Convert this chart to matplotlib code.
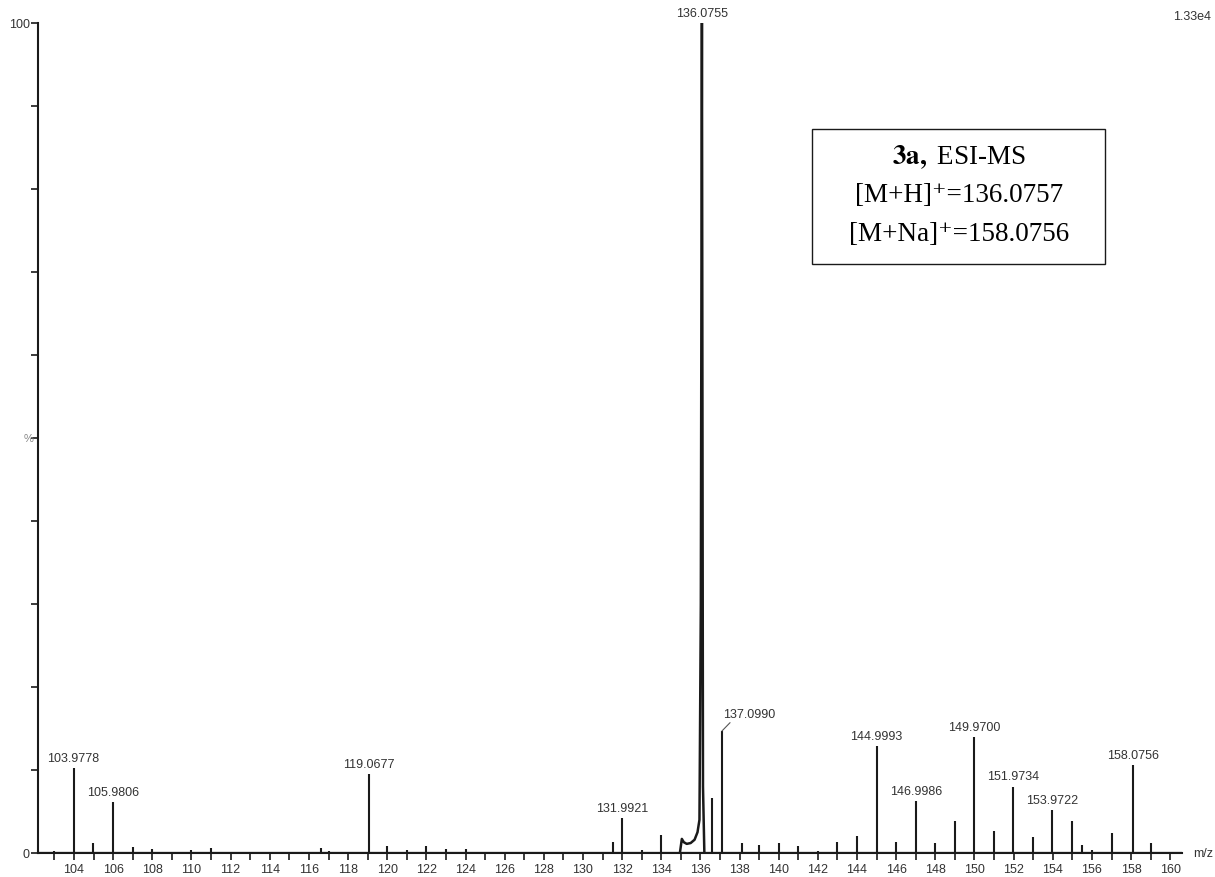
#!/usr/bin/env python3
"""ESI-MS spectrum of compound 3a, drawn as a stick spectrum."""

import matplotlib
matplotlib.use("Agg")
import matplotlib.pyplot as plt
from matplotlib.patches import Rectangle

# centroided peaks: m/z and relative intensity (%)
peak_mz = [103.0, 103.9778, 104.95, 105.9806, 107.0, 108.0, 110.0, 111.0, 116.6, 117.0,
           119.0677, 120.0, 121.0, 122.0, 123.0, 124.0, 131.55, 131.9921, 133.0, 134.0,
           136.6, 137.0990, 138.1, 139.0, 140.0, 141.0, 142.0, 143.0, 144.0, 144.9993,
           146.0, 146.9986, 148.0, 149.0, 149.9700, 151.0, 151.9734, 153.0, 153.9722,
           155.0, 155.5, 156.0, 157.0, 158.0756, 159.0]
peak_int = [0.3, 10.2, 1.2, 6.1, 0.7, 0.5, 0.4, 0.6, 0.6, 0.3,
            9.5, 0.8, 0.4, 0.9, 0.5, 0.5, 1.3, 4.2, 0.4, 2.2,
            6.6, 14.7, 1.2, 1.0, 1.2, 0.8, 0.3, 1.3, 2.0, 12.9,
            1.3, 6.3, 1.2, 3.8, 14.0, 2.6, 8.0, 1.9, 5.2,
            3.8, 1.0, 0.4, 2.4, 10.6, 1.2]

# profile of the base peak with its low-mass shoulder
base_mz = [134.95, 135.05, 135.15, 135.3, 135.5, 135.7, 135.85, 135.95, 136.02,
           136.0755, 136.13, 136.2]
base_int = [0.0, 1.7, 1.3, 1.1, 1.2, 1.6, 2.5, 4.0, 30.0, 100.0, 8.0, 0.0]

# annotated peaks
label_mz = [103.9778, 105.9806, 119.0677, 131.9921, 136.0755, 144.9993, 146.9986,
            149.9700, 151.9734, 153.9722, 158.0756]
label_int = [10.2, 6.1, 9.5, 4.2, 100.0, 12.9, 6.3, 14.0, 8.0, 5.2, 10.6]
offset_label_mz = 137.0990
offset_label_int = 14.7

x_min, x_max = 102.16, 160.6
x_ticks = list(range(103, 161))
x_labels = [str(t) if t % 2 == 0 else "" for t in x_ticks]
y_ticks = list(range(0, 101, 10))
y_labels = ["0", "", "", "", "", "", "", "", "", "", "100"]

box_lines = [r"$\mathbf{3a,}$ ESI-MS",
             "[M+H]\u207a=136.0757",
             "[M+Na]\u207a=158.0756"]

plt.rcParams["font.family"] = ["Liberation Sans", "DejaVu Sans"]
plt.rcParams["mathtext.fontset"] = "stix"

fig = plt.figure(figsize=(12.15, 8.78), dpi=100)
ax = fig.add_axes([38 / 1215, 24 / 878, 1144 / 1215, 830 / 878])

ink = "#1a1a1a"
ax.hlines(0, x_min, x_max, color=ink, lw=1.6, zorder=3)
ax.vlines(peak_mz, 0, peak_int, color=ink, lw=1.5)
ax.plot(base_mz, base_int, color=ink, lw=1.8, solid_joinstyle="round")

txt_color = "#333333"
fs = 9
for mz, inten in zip(label_mz, label_int):
    ax.annotate(f"{mz:.4f}", (mz, inten), xytext=(0, 3), textcoords="offset points",
                ha="center", va="bottom", fontsize=fs, color=txt_color, annotation_clip=False)

# 137.0990 sits next to the base peak, so it gets a short leader line
ax.annotate(f"{offset_label_mz:.4f}", (offset_label_mz, offset_label_int),
            xytext=(1, 8), textcoords="offset points", ha="left", va="bottom",
            fontsize=fs, color=txt_color,
            arrowprops=dict(arrowstyle="-", color="#555555", lw=0.8, shrinkA=0, shrinkB=0,
                            relpos=(0.18, 0.0)))

ax.set_xlim(x_min, x_max)
ax.set_ylim(0, 100)
ax.set_xticks(x_ticks)
ax.set_xticklabels(x_labels)
ax.set_yticks(y_ticks)
ax.set_yticklabels(y_labels)
ax.tick_params(axis="x", direction="out", length=5, width=1.2, pad=2, labelsize=fs,
               labelcolor=txt_color, color=ink)
ax.tick_params(axis="y", direction="out", length=5, width=1.2, pad=1, labelsize=fs,
               labelcolor=txt_color, color=ink)

for side in ("top", "right"):
    ax.spines[side].set_visible(False)
ax.spines["left"].set_linewidth(1.5)
ax.spines["bottom"].set_linewidth(1.5)
ax.spines["left"].set_color(ink)
ax.spines["bottom"].set_color(ink)

ax.text(-0.004, 0.5, "%", transform=ax.transAxes, ha="right", va="center",
        fontsize=8, color="#888888")
ax.text(1.01, 0.0, "m/z", transform=ax.transAxes, ha="left", va="center",
        fontsize=fs, color=txt_color)
fig.text(0.997, 1 - 17 / 878, "1.33e4", ha="right", va="center", fontsize=fs,
         color=txt_color)

# sample information box
box = Rectangle((0.677, 0.710), 0.256, 0.162, transform=ax.transAxes,
                facecolor="white", edgecolor=ink, lw=1.0)
ax.add_patch(box)
for i, line in enumerate(box_lines):
    ax.text(0.805, 0.840 - i * 0.047, line, transform=ax.transAxes, ha="center",
            va="center", fontsize=19.5, family=["Liberation Serif", "DejaVu Serif"],
            color="black")

fig.savefig("out.png", dpi=100)
